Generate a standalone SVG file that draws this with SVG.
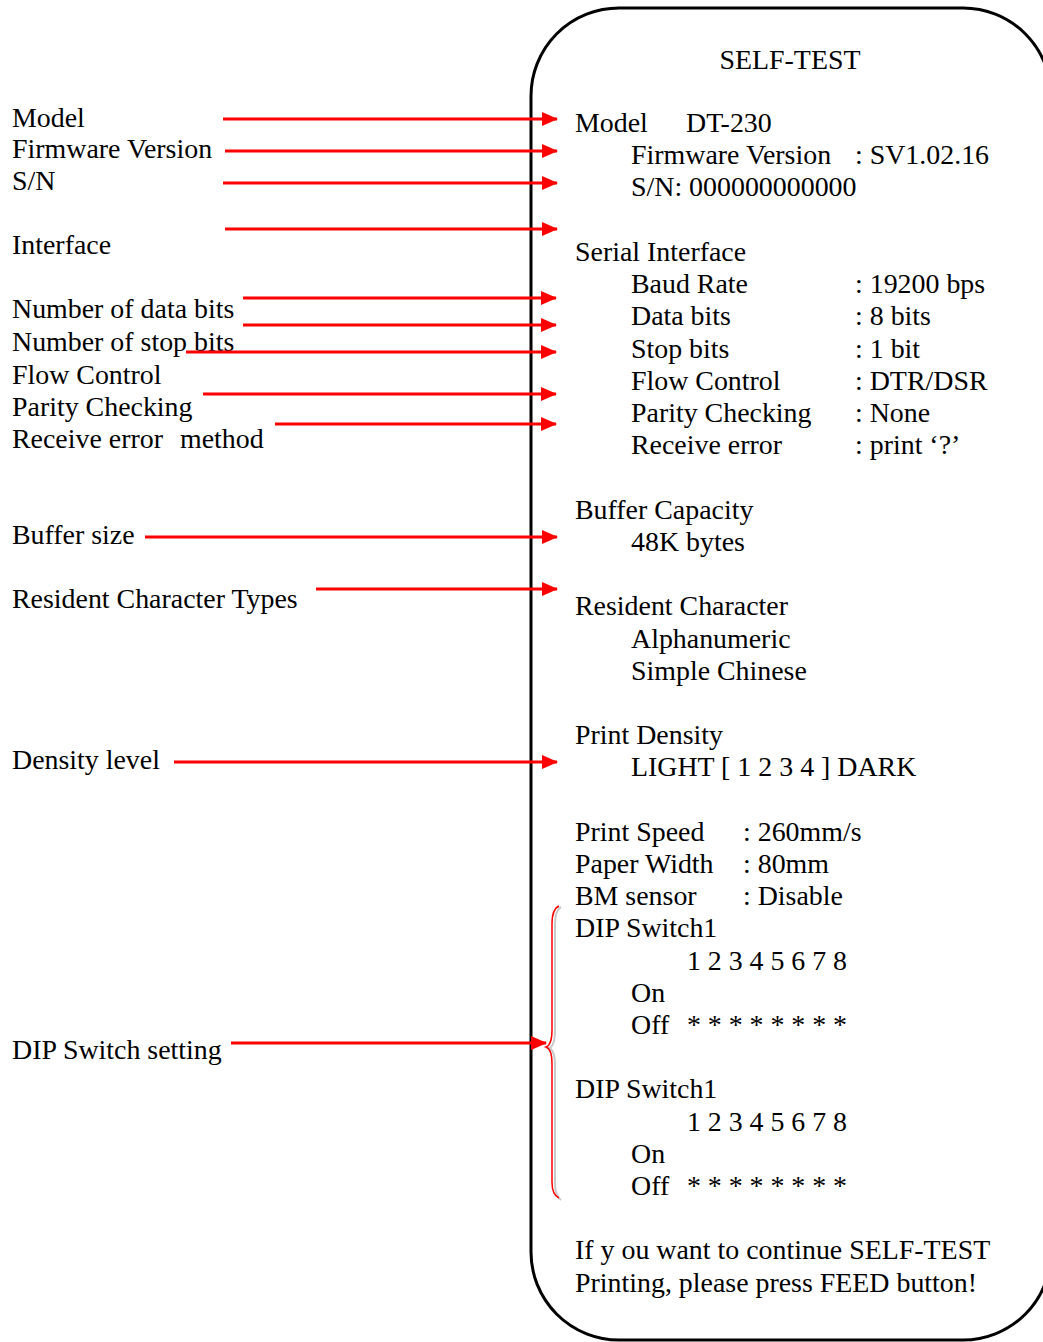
<svg xmlns="http://www.w3.org/2000/svg" width="1043" height="1342" viewBox="0 0 1043 1342">
<style>
text { font-family: "Liberation Serif", "Times New Roman", serif; font-size: 27.9px; fill: #000; }
.arr { stroke: #ff0000; stroke-width: 3; fill: none; marker-end: url(#ah); }
.c { text-anchor: middle; }
</style>
<defs>
<marker id="ah" viewBox="0 0 16 14" refX="15" refY="7" markerWidth="16" markerHeight="14" markerUnits="userSpaceOnUse" orient="auto">
<path d="M0,0 L16,7 L0,14 Z" fill="#ff0000"/>
</marker>
</defs>
<rect fill="#ffffff" width="1043" height="1342"/>
<rect x="531" y="8" width="520" height="1332" rx="88" ry="88" fill="none" stroke="#000" stroke-width="3"/>
<g id="printout" transform="translate(0,1)">
<text class="c" x="790" y="68">SELF-TEST</text>
<text x="575" y="131">Model</text>
<text x="686" y="131">DT-230</text>
<text x="631" y="163">Firmware Version</text>
<text x="855" y="163">: SV1.02.16</text>
<text x="631" y="195">S/N: 000000000000</text>
<text x="575" y="260">Serial Interface</text>
<text x="631" y="292">Baud Rate</text><text x="855" y="292">: 19200 bps</text>
<text x="631" y="324">Data bits</text><text x="855" y="324">: 8 bits</text>
<text x="631" y="357">Stop bits</text><text x="855" y="357">: 1 bit</text>
<text x="631" y="389">Flow Control</text><text x="855" y="389">: DTR/DSR</text>
<text x="631" y="421">Parity Checking</text><text x="855" y="421">: None</text>
<text x="631" y="453">Receive error</text><text x="855" y="453">: print ‘?’</text>
<text x="575" y="518">Buffer Capacity</text>
<text x="631" y="550">48K bytes</text>
<text x="575" y="614">Resident Character</text>
<text x="631" y="647">Alphanumeric</text>
<text x="631" y="679">Simple Chinese</text>
<text x="575" y="743">Print Density</text>
<text x="631" y="775">LIGHT [ 1 2 3 4 ] DARK</text>
<text x="575" y="840">Print Speed</text><text x="743" y="840">: 260mm/s</text>
<text x="575" y="872">Paper Width</text><text x="743" y="872">: 80mm</text>
<text x="575" y="904">BM sensor</text><text x="743" y="904">: Disable</text>
<text x="575" y="936">DIP Switch1</text>
<text x="687" y="969" textLength="160">1 2 3 4 5 6 7 8</text>
<text x="631" y="1001">On</text>
<text x="631" y="1033">Off</text>
<text x="687" y="1033" textLength="160">* * * * * * * *</text>
<text x="575" y="1097">DIP Switch1</text>
<text x="687" y="1130" textLength="160">1 2 3 4 5 6 7 8</text>
<text x="631" y="1162">On</text>
<text x="631" y="1194">Off</text>
<text x="687" y="1194" textLength="160">* * * * * * * *</text>
<text x="575" y="1258">If y ou want to continue SELF-TEST</text>
<text x="575" y="1291">Printing, please press FEED button!</text>
</g>
<g id="labels" transform="translate(0,1)">
<text x="12" y="126">Model</text>
<text x="12" y="157">Firmware Version</text>
<text x="12" y="189">S/N</text>
<text x="12" y="253">Interface</text>
<text x="12" y="317">Number of data bits</text>
<text x="12" y="350">Number of stop bits</text>
<text x="12" y="383">Flow Control</text>
<text x="12" y="415">Parity Checking</text>
<text x="12" y="447">Receive error <tspan x="180">method</tspan></text>
<text x="12" y="543">Buffer size</text>
<text x="12" y="607">Resident Character Types</text>
<text x="12" y="768">Density level</text>
<text x="12" y="1058">DIP Switch setting</text>
</g>
<g id="brace">
<path d="M561,907 Q555,910 555,925 L555,1030 Q555,1046 549,1048 Q555,1050 555,1066 L555,1183 Q555,1196 561,1200" fill="none" stroke="#c8c8c8" stroke-width="2"/>
<path d="M559,906 Q552,909 552,924 L552,1030 Q552,1045 546,1047 Q552,1049 552,1064 L552,1182 Q552,1195 559,1198" fill="none" stroke="#ff0000" stroke-width="1.5"/>
</g>
<g id="connectors">
<line class="arr" x1="223" y1="119" x2="557" y2="119"/>
<line class="arr" x1="225" y1="151" x2="557" y2="151"/>
<line class="arr" x1="223" y1="183" x2="557" y2="183"/>
<line class="arr" x1="225" y1="229" x2="557" y2="229"/>
<line class="arr" x1="243" y1="298" x2="556" y2="298"/>
<line class="arr" x1="243" y1="325" x2="556" y2="325"/>
<line class="arr" x1="186" y1="352" x2="556" y2="352"/>
<line class="arr" x1="203" y1="394" x2="556" y2="394"/>
<line class="arr" x1="275" y1="424" x2="556" y2="424"/>
<line class="arr" x1="145" y1="537" x2="557" y2="537"/>
<line class="arr" x1="316" y1="589" x2="557" y2="589"/>
<line class="arr" x1="174" y1="762" x2="557" y2="762"/>
<line class="arr" x1="231" y1="1043" x2="546" y2="1043"/>
</g>
</svg>
